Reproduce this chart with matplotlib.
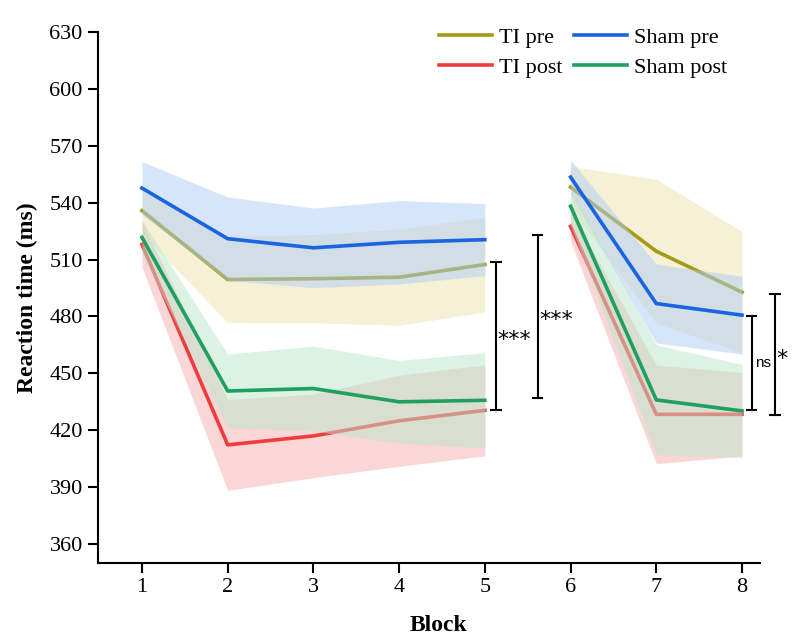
import matplotlib
matplotlib.use("Agg")
import matplotlib.pyplot as plt
import numpy as np

plt.rcParams["font.family"] = ["Liberation Serif", "DejaVu Serif"]

# blocks, split in two runs
blocks_a = [1, 2, 3, 4, 5]
blocks_b = [6, 7, 8]

# mean reaction time (ms) per block
ti_pre = [535.8, 499.5, 499.9, 500.7, 507.4, 548.2, 514.4, 492.8]
ti_post = [518.0, 412.3, 417.0, 425.0, 430.5, 527.5, 428.4, 428.4]
sham_pre = [547.7, 521.0, 516.2, 519.1, 520.5, 553.5, 486.8, 480.7]
sham_post = [521.7, 440.7, 442.0, 435.0, 435.8, 538.1, 436.0, 430.2]

# half width of the shaded band
ti_pre_err = [12, 22.8, 23.3, 25.4, 25.0, 11, 38, 32]
ti_post_err = [12, 24, 22, 24, 24, 8, 26, 22]
sham_pre_err = [14, 22, 21, 22, 19, 9, 20.8, 20.5]
sham_post_err = [9, 19.5, 22.4, 21.8, 25.2, 10, 29, 24.5]

# significance brackets: x, bottom, top, label
brackets = [
    (5.13, 430.5, 508.8, "***"),
    (5.617, 437.0, 522.8, "***"),
    (8.112, 430.9, 480.5, "ns"),
    (8.385, 428.0, 491.6, "*"),
]

series = [
    ("TI pre", ti_pre, ti_pre_err, "#a39a16", "#efe5af"),
    ("TI post", ti_post, ti_post_err, "#f03c3c", "#f9afaf"),
    ("Sham pre", sham_pre, sham_pre_err, "#1a64e0", "#afcdf5"),
    ("Sham post", sham_post, sham_post_err, "#20a060", "#b9e7cd"),
]

fig = plt.figure(figsize=(7.94, 6.40), dpi=100)
ax = fig.add_axes([0.1234, 0.1203, 0.8338, 0.8297])

handles = []
z = 1
for name, mean, err, col, band in series:
    mean = np.array(mean)
    err = np.array(err)
    for xs, sl in [(blocks_a, slice(0, 5)), (blocks_b, slice(5, 8))]:
        ax.fill_between(xs, mean[sl] - err[sl], mean[sl] + err[sl],
                        color=band, alpha=0.5, lw=0, zorder=z)
        ln, = ax.plot(xs, mean[sl], color=col, lw=2.6, zorder=z + 0.5)
    handles.append(ln)
    z += 1

# brackets
cap = 0.055
for x, lo, hi, lab in brackets:
    ax.plot([x, x], [lo, hi], color="black", lw=1.5, clip_on=False, zorder=10)
    ax.plot([x - cap, x + cap], [lo, lo], color="black", lw=1.5, clip_on=False, zorder=10)
    ax.plot([x - cap, x + cap], [hi, hi], color="black", lw=1.5, clip_on=False, zorder=10)
    mid = (lo + hi) / 2
    if lab == "ns":
        ax.text(x + 0.04, mid, lab, fontsize=11, family=["Liberation Sans", "DejaVu Sans"],
                ha="left", va="center", clip_on=False)
    else:
        ax.text(x + 0.02, mid - 2, lab, fontsize=16, family="DejaVu Sans",
                ha="left", va="center", clip_on=False)

ax.set_xlim(0.487, 8.21)
ax.set_ylim(350, 630)
ax.set_xticks(range(1, 9))
ax.set_yticks(np.arange(360, 631, 30))
ax.tick_params(labelsize=16, width=1.5, length=7, pad=4, direction="out")
for s in ["top", "right"]:
    ax.spines[s].set_visible(False)
for s in ["left", "bottom"]:
    ax.spines[s].set_linewidth(1.5)

ax.set_xlabel("Block", fontsize=17, fontweight="bold")
ax.xaxis.set_label_coords(0.515, -0.098)
ax.set_ylabel("Reaction time (ms)", fontsize=17, fontweight="bold", labelpad=8)

ax.legend(handles, [s[0] for s in series], ncol=2, frameon=False,
          fontsize=16, loc="upper left", bbox_to_anchor=(0.553, 0.957),
          bbox_transform=fig.transFigure, handlelength=2.4,
          handletextpad=0.3, columnspacing=0.5, labelspacing=0.4,
          borderpad=0, borderaxespad=0)

fig.savefig("out.png", dpi=100)
